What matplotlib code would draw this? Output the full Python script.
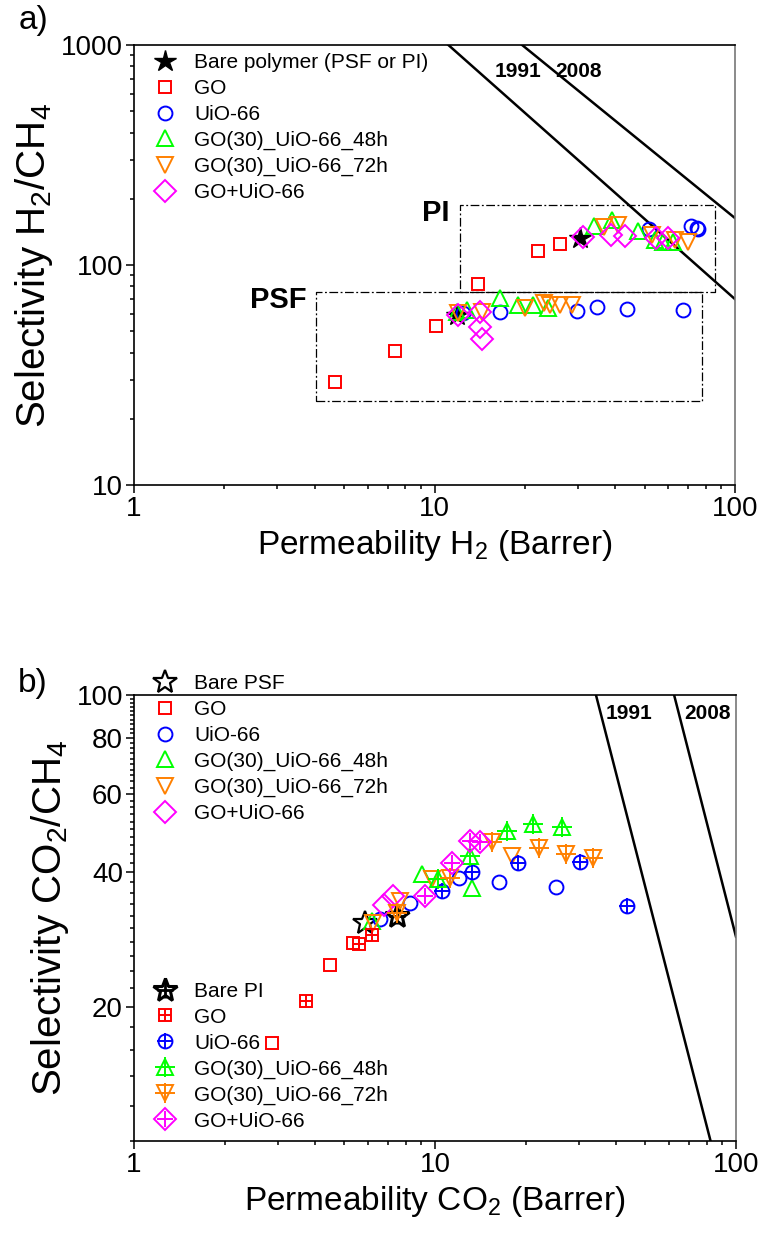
import matplotlib
matplotlib.use('Agg')
import matplotlib.pyplot as plt
from matplotlib.ticker import FixedLocator, FixedFormatter, LogLocator, NullFormatter
import numpy as np

plt.rcParams['font.family'] = ['Liberation Sans', 'DejaVu Sans']
plt.rcParams['mathtext.fontset'] = 'custom'
plt.rcParams['mathtext.rm'] = 'Liberation Sans'

# ---- panel a) H2/CH4 ----
bare_a_x = [11.85, 30.5]
bare_a_y = [59.3, 132.3]
go_a_x = [4.67, 7.39, 10.09, 13.93, 22.1, 26.2]
go_a_y = [29.4, 40.6, 52.8, 81.7, 116.1, 124.9]
uio_a_x = [12.44, 16.52, 29.7, 34.7, 43.6, 67.0, 51.9, 71.2, 74.6, 75.5]
uio_a_y = [60.5, 61.3, 62.0, 64.6, 62.9, 62.4, 145.3, 150.4, 146.8, 145.3]
h48_a_x = [11.85, 12.8, 16.52, 19.0, 21.3, 23.9, 33.9, 38.9, 47.7, 54.2, 57.4, 62.3]
h48_a_y = [61.3, 62.4, 70.6, 65.8, 65.8, 63.5, 150.4, 160.1, 142.7, 129.9, 127.6, 127.6]
h72_a_x = [12.0, 14.36, 20.0, 23.1, 24.3, 26.2, 28.6, 36.6, 40.9, 52.8, 63.1, 69.9]
h72_a_y = [60.3, 61.3, 63.5, 67.5, 65.8, 65.8, 65.8, 149.3, 152.0, 136.9, 129.9, 127.6]
mix_a_x = [12.0, 14.17, 14.17, 14.36, 31.1, 38.6, 43.0, 54.6, 60.0]
mix_a_y = [59.3, 61.3, 52.4, 45.9, 134.5, 136.9, 135.5, 132.3, 132.3]

# boxes (xmin, xmax, ymin, ymax)
pi_box = (12.2, 85.8, 75.6, 188.0)
psf_box = (4.03, 77.5, 24.1, 75.2)

# Robeson upper bounds: alpha = k * P**n
h2_1991 = (18500, -1.2112)
h2_2008 = (27200, -1.1107)
co2_1991 = (1073700, -2.6264)
co2_2008 = (5369140, -2.636)

# ---- panel b) CO2/CH4 : open = PSF, crossed = PI ----
bare_psf_x = [5.85]
bare_psf_y = [30.8]
go_psf_x = [2.87, 4.48, 5.33]
go_psf_y = [16.6, 24.8, 27.8]
uio_psf_x = [6.57, 8.26, 12.04, 16.36, 25.18]
uio_psf_y = [31.4, 34.2, 38.8, 38.1, 37.1]
h48_psf_x = [6.16, 9.03, 13.24]
h48_psf_y = [31.1, 39.6, 37.0]
h72_psf_x = [6.24, 7.65, 9.75, 17.98]
h72_psf_y = [30.8, 34.5, 38.6, 43.6]
mix_psf_x = [6.77, 7.27]
mix_psf_y = [33.9, 35.4]

bare_pi_x = [7.46]
bare_pi_y = [31.9]
go_pi_x = [3.73, 5.61, 6.16]
go_pi_y = [20.6, 27.7, 29.0]
uio_pi_x = [10.53, 13.24, 18.91, 30.31, 43.4]
uio_pi_y = [36.3, 40.0, 42.1, 42.3, 33.6]
h48_pi_x = [10.26, 13.07, 17.31, 21.11, 26.36]
h48_pi_y = [38.6, 43.6, 49.6, 51.4, 50.7]
h72_pi_x = [7.46, 11.22, 15.43, 22.21, 27.24, 33.57]
h72_pi_y = [32.5, 38.9, 46.7, 45.3, 43.9, 43.2]
mix_pi_x = [9.26, 11.36, 13.07, 14.11]
mix_pi_y = [35.4, 42.1, 47.1, 46.7]

labels_b = ['GO', 'UiO-66', 'GO(30)_UiO-66_48h', 'GO(30)_UiO-66_72h', 'GO+UiO-66']
colors = ['#ff0000', '#0000ff', '#00ff00', '#ff8000', '#ff00ff']
markers = ['s', 'o', '^', 'v', 'D']
sizes = [9, 10, 12, 12, 11]

W, H = 762, 1234
fig = plt.figure(figsize=(W / 100, H / 100), dpi=100)
ax1 = fig.add_axes([134 / W, 1 - 485 / H, 601 / W, 440 / H])
ax2 = fig.add_axes([134 / W, 1 - 1141 / H, 602 / W, 446 / H])

lw_m = 1.4
leg_kw = dict(frameon=False, fontsize=15, handlelength=1.2, handletextpad=0.8,
              labelspacing=0.33, borderaxespad=0.2)


def style_axes(ax):
    ax.set_xscale('log')
    ax.set_yscale('log')
    for s in ax.spines.values():
        s.set_linewidth(1.2)
    ax.spines['right'].set_color('#777777')
    ax.tick_params(which='both', direction='out', top=False, right=False, width=1.1)
    ax.tick_params(which='major', length=6, labelsize=20, pad=2)
    ax.tick_params(which='minor', length=3)
    ax.xaxis.set_major_locator(FixedLocator([1, 10, 100]))
    ax.xaxis.set_major_formatter(FixedFormatter(['1', '10', '100']))
    ax.xaxis.set_minor_locator(LogLocator(base=10, subs=np.arange(2, 10)))
    ax.xaxis.set_minor_formatter(NullFormatter())


def bound_line(ax, kn, xlim):
    k, n = kn
    xs = np.array(xlim)
    ax.plot(xs, k * xs ** n, color='black', lw=1.8, zorder=2)


# ================= a) =================
style_axes(ax1)
ax1.set_xlim(1, 100)
ax1.set_ylim(10, 1000)
ax1.yaxis.set_major_locator(FixedLocator([10, 100, 1000]))
ax1.yaxis.set_major_formatter(FixedFormatter(['10', '100', '1000']))
ax1.yaxis.set_minor_locator(LogLocator(base=10, subs=np.arange(2, 10)))
ax1.yaxis.set_minor_formatter(NullFormatter())

bound_line(ax1, h2_1991, (1, 100))
bound_line(ax1, h2_2008, (1, 100))

for box in (pi_box, psf_box):
    x0, x1, y0, y1 = box
    ax1.plot([x0, x1, x1, x0, x0], [y0, y0, y1, y1, y0], color='black',
             lw=0.9, linestyle=(0, (7, 2, 1.5, 2)), zorder=1)

ax1.plot(bare_a_x, bare_a_y, linestyle='none', marker='*', ms=16, color='black',
         label='Bare polymer (PSF or PI)', zorder=3)
data_a = [(go_a_x, go_a_y), (uio_a_x, uio_a_y), (h48_a_x, h48_a_y),
          (h72_a_x, h72_a_y), (mix_a_x, mix_a_y)]
for (xs, ys), lab, c, m, s in zip(data_a, labels_b, colors, markers, sizes):
    ax1.plot(xs, ys, linestyle='none', marker=m, ms=s, mfc='none', mec=c,
             mew=lw_m, label=lab, zorder=4)

ax1.text(15.8, 760, '1991', fontsize=15, fontweight='bold', va='center')
ax1.text(25.3, 760, '2008', fontsize=15, fontweight='bold', va='center')
ax1.text(11.2, 172, 'PI', fontsize=21, fontweight='bold', ha='right', va='center')
ax1.text(3.75, 69.3, 'PSF', fontsize=21, fontweight='bold', ha='right', va='center')

ax1.set_xlabel(r'Permeability H$_\mathregular{2}$ (Barrer)', fontsize=24, labelpad=4)
ax1.set_ylabel(r'Selectivity H$_\mathregular{2}$/CH$_\mathregular{4}$', fontsize=29, labelpad=4)
ax1.legend(loc='upper left', bbox_to_anchor=(0.01, 1.01), **leg_kw)
fig.text(33 / W, 1 - 20 / H, 'a)', fontsize=24, ha='center', va='center')

# ================= b) =================
style_axes(ax2)
ax2.set_xlim(1, 100)
ax2.set_ylim(10, 100)
ax2.yaxis.set_major_locator(FixedLocator([20, 40, 60, 80, 100]))
ax2.yaxis.set_major_formatter(FixedFormatter(['20', '40', '60', '80', '100']))
ax2.yaxis.set_minor_locator(FixedLocator(np.arange(10, 101, 2)))
ax2.yaxis.set_minor_formatter(NullFormatter())

bound_line(ax2, co2_1991, (20, 100))
bound_line(ax2, co2_2008, (20, 100))

psf_data = [(go_psf_x, go_psf_y), (uio_psf_x, uio_psf_y), (h48_psf_x, h48_psf_y),
            (h72_psf_x, h72_psf_y), (mix_psf_x, mix_psf_y)]
pi_data = [(go_pi_x, go_pi_y), (uio_pi_x, uio_pi_y), (h48_pi_x, h48_pi_y),
           (h72_pi_x, h72_pi_y), (mix_pi_x, mix_pi_y)]

h_psf = []
h_pi = []
star_open, = ax2.plot(bare_psf_x, bare_psf_y, linestyle='none', marker='*', ms=18,
                      mfc='none', mec='black', mew=1.6, zorder=3)
h_psf.append(star_open)
s1, = ax2.plot(bare_pi_x, bare_pi_y, linestyle='none', marker='*', ms=18,
               mfc='none', mec='black', mew=2.2, zorder=3)
s2, = ax2.plot(bare_pi_x, bare_pi_y, linestyle='none', marker='+', ms=12,
               mec='black', mew=2.0, zorder=3)
h_pi.append((s1, s2))

for (xs, ys), c, m, s in zip(psf_data, colors, markers, sizes):
    ln, = ax2.plot(xs, ys, linestyle='none', marker=m, ms=s, mfc='none', mec=c,
                   mew=lw_m, zorder=4)
    h_psf.append(ln)
for (xs, ys), c, m, s in zip(pi_data, colors, markers, sizes):
    ln, = ax2.plot(xs, ys, linestyle='none', marker=m, ms=s, mfc='none', mec=c,
                   mew=lw_m, zorder=5)
    pl, = ax2.plot(xs, ys, linestyle='none', marker='+', ms=s if m in 'sD' else s + 2,
                   mec=c, mew=lw_m, zorder=5)
    h_pi.append((ln, pl))

leg1 = ax2.legend(h_psf, ['Bare PSF'] + labels_b, loc='upper left',
                  bbox_to_anchor=(0.01, 1.075), **leg_kw)
ax2.add_artist(leg1)
ax2.legend(h_pi, ['Bare PI'] + labels_b, loc='lower left',
           bbox_to_anchor=(0.01, -0.005), **leg_kw)

ax2.text(37.0, 91.0, '1991', fontsize=15, fontweight='bold', va='center')
ax2.text(67.5, 91.0, '2008', fontsize=15, fontweight='bold', va='center')

ax2.set_xlabel(r'Permeability CO$_\mathregular{2}$ (Barrer)', fontsize=24, labelpad=4)
ax2.set_ylabel(r'Selectivity CO$_\mathregular{2}$/CH$_\mathregular{4}$', fontsize=29, labelpad=4)
fig.text(33 / W, 1 - 683 / H, 'b)', fontsize=24, ha='center', va='center')

fig.savefig('out.png', dpi=100)
